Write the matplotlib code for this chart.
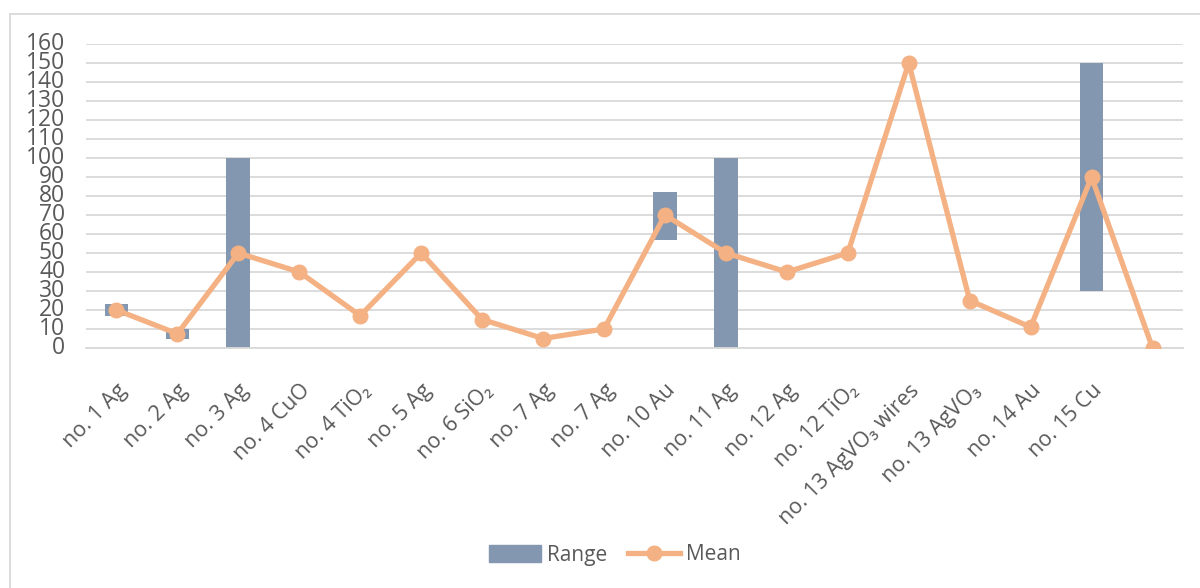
import matplotlib
matplotlib.use("Agg")
import matplotlib.pyplot as plt
import numpy as np
from matplotlib.patches import Rectangle
from matplotlib.lines import Line2D

categories = ["no. 1 Ag", "no. 2 Ag", "no. 3 Ag", "no. 4 CuO", "no. 4 TiO₂", "no. 5 Ag",
              "no. 6 SiO₂", "no. 7 Ag", "no. 7 Ag", "no. 10 Au", "no. 11 Ag", "no. 12 Ag",
              "no. 12 TiO₂", "no. 13 AgVO₃ wires", "no. 13 AgVO₃", "no. 14 Au", "no. 15 Cu", ""]
range_low = [17, 5, 0, np.nan, np.nan, np.nan, np.nan, np.nan, np.nan, 57, 0, np.nan,
             np.nan, np.nan, np.nan, np.nan, 30, np.nan]
range_high = [23, 10, 100, np.nan, np.nan, np.nan, np.nan, np.nan, np.nan, 82, 100, np.nan,
              np.nan, np.nan, np.nan, np.nan, 150, np.nan]
mean_vals = [20, 7.5, 50, 40, 17, 50, 15, 5, 10, 70, 50, 40, 50, 150, 25, 11, 90, 0]
y_ticks = list(range(0, 161, 10))

bar_color = "#8497B0"
line_color = "#F4B183"
text_color = "#595959"
grid_color = "#D9D9D9"

plt.rcParams["font.family"] = ["Open Sans", "DejaVu Sans"]

fig = plt.figure(figsize=(12, 5.88), dpi=100)
W, H = 1200, 588
ax = fig.add_axes([86 / W, 1 - 348 / H, (1183 - 86) / W, (348 - 44) / H])

x = np.arange(len(categories))
low = np.array(range_low, dtype=float)
high = np.array(range_high, dtype=float)
ax.bar(x, high - low, bottom=low, width=0.39, color=bar_color, zorder=2, label="Range")
ax.plot(x, mean_vals, color=line_color, lw=3.8, marker="o", markersize=10.5,
        zorder=3, label="Mean", solid_capstyle="round")

ax.set_xlim(-0.5, len(categories) - 0.5)
ax.set_ylim(0, 160)
ax.set_yticks(y_ticks)
ax.set_yticklabels([str(v) for v in y_ticks], fontsize=16.5, color=text_color)
ax.yaxis.grid(True, color=grid_color, lw=1.3, zorder=0)
ax.set_axisbelow(True)
for s in ["top", "right", "left"]:
    ax.spines[s].set_visible(False)
ax.spines["bottom"].set_color(grid_color)
ax.spines["bottom"].set_linewidth(1.3)
ax.tick_params(axis="y", length=0, pad=15)
ax.tick_params(axis="x", length=0, pad=23)
ax.set_xticks(x)
ax.set_xticklabels(categories, rotation=45, ha="right", va="top", rotation_mode="anchor",
                   fontsize=15.5, color=text_color)
for lbl in ax.get_yticklabels():
    lbl.set_verticalalignment("center")

# chart frame (left and top edges)
fig.add_artist(Line2D([10 / W, 10 / W], [0, 1 - 14 / H], transform=fig.transFigure,
                      color=grid_color, lw=1.3))
fig.add_artist(Line2D([10 / W, 1], [1 - 14 / H, 1 - 14 / H], transform=fig.transFigure,
                      color=grid_color, lw=1.3))

handles = [Rectangle((0, 0), 1, 1, color=bar_color),
           Line2D([], [], color=line_color, lw=3.8, marker="o", markersize=10.5)]
fig.legend(handles, ["Range", "Mean"], loc="center", bbox_to_anchor=(615 / W, 1 - 555 / H),
           ncol=2, frameon=False, fontsize=15, labelcolor=text_color,
           handlelength=2.5, handleheight=0.85, handletextpad=0.3, columnspacing=1.0)

fig.savefig("out.png", dpi=100, facecolor="white")
